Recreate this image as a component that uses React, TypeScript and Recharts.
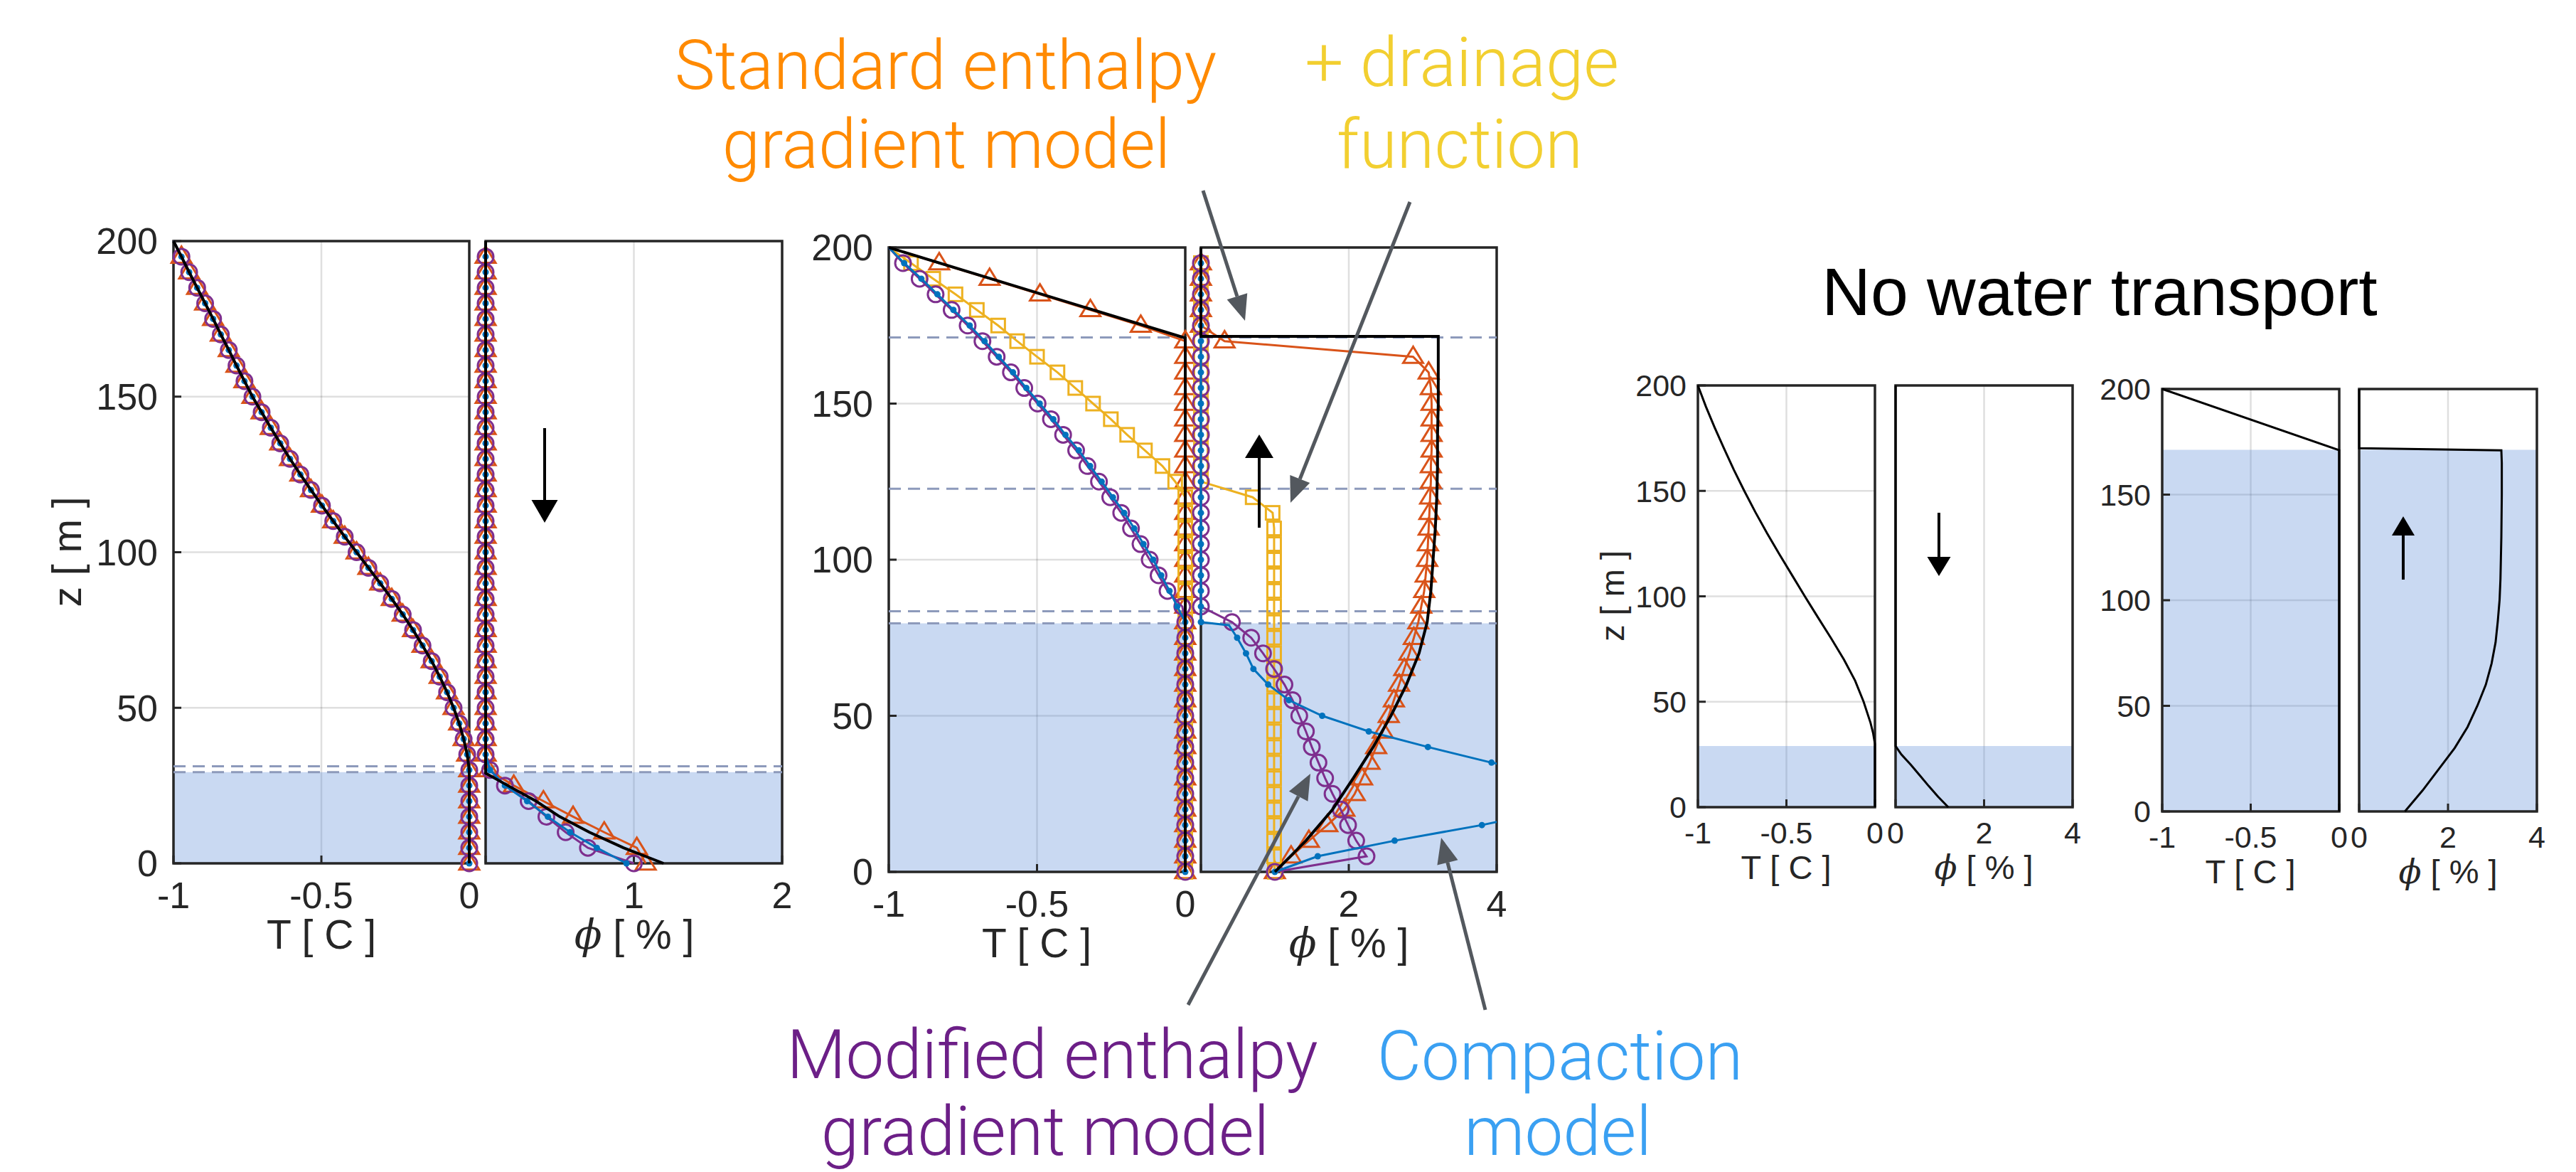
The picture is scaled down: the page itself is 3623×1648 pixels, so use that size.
import React from 'react';
import { ScatterChart, Scatter, XAxis, YAxis, CartesianGrid, ReferenceArea, ReferenceLine } from 'recharts';

// depth grid of the model runs, top to bottom (m)
const zModel = [
  200, 195, 190, 185, 180, 175, 170, 165, 160, 155,
  150, 145, 140, 135, 130, 125, 120, 115, 110, 105,
  100, 95, 90, 85, 80, 75, 70, 65, 60, 55,
  50, 45, 40, 35, 30, 25, 20, 15, 10, 5, 0,
];
const zTicks = [0, 50, 100, 150, 200];

// case 1: water percolates down (temperature, all models overlap)
const tA_models = [
  -1, -0.973, -0.947, -0.92, -0.893, -0.866, -0.84, -0.813, -0.787, -0.76,
  -0.733, -0.702, -0.671, -0.639, -0.606, -0.571, -0.535, -0.498, -0.46, -0.421,
  -0.381, -0.341, -0.301, -0.262, -0.225, -0.19, -0.158, -0.127, -0.1, -0.075,
  -0.053, -0.034, -0.019, -0.007, 0, 0, 0, 0, 0, 0, 0,
];
// case 1 porosity
const phiA_std = [
  0, 0, 0, 0, 0, 0, 0, 0, 0, 0,
  0, 0, 0, 0, 0, 0, 0, 0, 0, 0,
  0, 0, 0, 0, 0, 0, 0, 0, 0, 0,
  0, 0, 0, 0, 0.02, 0.19, 0.39, 0.59, 0.8, 1.02, 1.08,
];
const phiA_mod = [
  0, 0, 0, 0, 0, 0, 0, 0, 0, 0,
  0, 0, 0, 0, 0, 0, 0, 0, 0, 0,
  0, 0, 0, 0, 0, 0, 0, 0, 0, 0,
  0, 0, 0, 0, 0.03, 0.13, 0.29, 0.41, 0.54, 0.69, 1.0,
];
const phiA_cmp = [
  0, 0, 0, 0, 0, 0, 0, 0, 0, 0,
  0, 0, 0, 0, 0, 0, 0, 0, 0, 0,
  0, 0, 0, 0, 0, 0, 0, 0, 0, 0,
  0, 0, 0, 0, 0.03, 0.13, 0.28, 0.42, 0.57, 0.75, 0.95,
];
const zA_exact = [200, 29, 25, 20, 15, 10, 5, 0];
const phiA_exact = [0, 0, 0.15, 0.34, 0.5, 0.7, 0.93, 1.2];

// case 2: water moves up (temperature)
const tB_std = [
  -1, -0.83, -0.66, -0.49, -0.32, -0.15, 0, 0, 0, 0,
  0, 0, 0, 0, 0, 0, 0, 0, 0, 0,
  0, 0, 0, 0, 0, 0, 0, 0, 0, 0,
  0, 0, 0, 0, 0, 0, 0, 0, 0, 0, 0,
];
const tB_drn = [
  -1, -0.925, -0.85, -0.775, -0.703, -0.631, -0.567, -0.5, -0.431, -0.371,
  -0.311, -0.251, -0.196, -0.136, -0.077, -0.034, 0, 0, 0, 0,
  0, 0, 0, 0, 0, 0, 0, 0, 0, 0,
  0, 0, 0, 0, 0, 0, 0, 0, 0, 0, 0,
];
const tB_mod = [
  -1, -0.952, -0.896, -0.842, -0.788, -0.734, -0.684, -0.636, -0.588, -0.543,
  -0.498, -0.453, -0.412, -0.368, -0.33, -0.291, -0.253, -0.216, -0.183, -0.151,
  -0.12, -0.09, -0.06, -0.01, 0, 0, 0, 0, 0, 0,
  0, 0, 0, 0, 0, 0, 0, 0, 0, 0, 0,
];
const tB_cmp = [
  -1, -0.948, -0.89, -0.836, -0.782, -0.727, -0.677, -0.629, -0.581, -0.536,
  -0.491, -0.445, -0.404, -0.359, -0.321, -0.282, -0.244, -0.206, -0.172, -0.141,
  -0.108, -0.081, -0.053, -0.027, 0, 0, 0, 0, 0, 0,
  0, 0, 0, 0, 0, 0, 0, 0, 0, 0, 0,
];
const zB_exactT = [200, 171, 0];
const tB_exact = [-1, 0, 0];

// case 2 porosity
const phiB_std = [
  0, 0, 0, 0, 0, 0, 0.32, 2.87, 3.08, 3.11,
  3.12, 3.12, 3.12, 3.12, 3.11, 3.11, 3.1, 3.09, 3.08, 3.07,
  3.06, 3.04, 3.02, 2.98, 2.94, 2.88, 2.82, 2.75, 2.68, 2.61,
  2.54, 2.46, 2.37, 2.28, 2.18, 2.08, 1.94, 1.71, 1.46, 1.22, 1.0,
];
const phiB_drn = [
  0, 0, 0, 0, 0, 0, 0, 0, 0, 0,
  0, 0, 0, 0, 0, 0, 0.7, 0.97, 0.99, 0.99,
  0.99, 0.99, 0.99, 0.99, 0.99, 0.99, 0.99, 0.99, 0.99, 0.99,
  0.99, 0.99, 0.99, 0.99, 0.99, 0.99, 0.99, 0.99, 0.99, 0.99, 1.0,
];
const phiB_mod = [
  0, 0, 0, 0, 0, 0, 0, 0, 0, 0,
  0, 0, 0, 0, 0, 0, 0, 0, 0, 0,
  0, 0, 0, 0, 0.42, 0.68, 0.84, 0.99, 1.13, 1.24,
  1.33, 1.42, 1.5, 1.59, 1.68, 1.78, 1.89, 1.99, 2.1, 2.24, 1.0,
];
const zB_cmp = [
  200, 195, 190, 185, 180, 175, 170, 165, 160, 155,
  150, 145, 140, 135, 130, 125, 120, 115, 110, 105,
  100, 95, 90, 85, 80, 79, 75, 70, 65, 60, 55,
  50, 45, 40, 35, 30, 25, 20, 15, 10, 5, 0,
];
const phiB_cmp = [
  0, 0, 0, 0, 0, 0, 0, 0, 0, 0,
  0, 0, 0, 0, 0, 0, 0, 0, 0, 0,
  0, 0, 0, 0, 0, 0.38, 0.49, 0.61, 0.71, 0.91, 1.19,
  1.64, 2.27, 3.07, 3.93, 5.1, 5.6, 4.8, 3.8, 2.62, 1.58, 1.0,
];
const zB_exactPhi = [200, 171.5, 171.5, 170, 160, 150, 140, 130, 120, 110, 100, 90, 80, 70, 60, 50, 40, 30, 20, 10, 5, 0];
const phiB_exact = [0, 0, 3.21, 3.21, 3.21, 3.21, 3.2, 3.2, 3.19, 3.17, 3.14, 3.11, 3.06, 2.95, 2.78, 2.57, 2.33, 2.06, 1.78, 1.42, 1.21, 1.0];

// no water transport, case 1
const zC_T = [200, 190, 180, 170, 160, 150, 140, 130, 120, 110, 100, 90, 80, 70, 60, 50, 40, 35, 30, 0];
const tC = [-1, -0.955, -0.905, -0.852, -0.797, -0.738, -0.676, -0.61, -0.54, -0.468, -0.396, -0.322, -0.247, -0.175, -0.112, -0.064, -0.025, -0.01, 0, 0];
const zC_phi = [200, 29, 25, 20, 15, 10, 5, 0];
const phiC = [0, 0, 0.13, 0.35, 0.55, 0.75, 0.96, 1.19];

// no water transport, case 2
const zD_T = [200, 171, 0];
const tD = [-1, 0, 0];
const zD_phi = [200, 172, 171, 165, 150, 130, 120, 110, 100, 90, 80, 70, 60, 50, 40, 30, 20, 10, 0];
const phiD = [0, 0, 3.2, 3.21, 3.21, 3.2, 3.19, 3.18, 3.16, 3.12, 3.07, 2.98, 2.85, 2.66, 2.44, 2.15, 1.79, 1.43, 1.03];

const FONT = '"Liberation Sans", Arial, Helvetica, sans-serif';
const LIGHT = 'Roboto, "Liberation Sans", sans-serif';
const ORANGE = '#D95319';
const YELLOW = '#EDB120';
const PURPLE = '#7E2F8E';
const BLUE = '#0072BD';
const AXIS = '#262626';
const TICK_LEN = 11;

type Pt = { x: number; z: number };
type MarkerKind = 'none' | 'circle' | 'triangle' | 'square' | 'dot';
type Series = { id: string; pts: Pt[]; color: string; marker: MarkerKind; size?: number; lw: number; clip?: boolean };

const toPts = (zs: number[], xs: number[]): Pt[] => zs.map((z, i) => ({ z, x: xs[i] }));

const makeShape = (kind: MarkerKind, color: string, size: number) => (props: any) => {
  const { cx, cy, payload } = props;
  if (kind === 'none' || cx == null || cy == null) return <g />;
  if (!payload || payload.z >= 200 || payload.z % 5 !== 0) return <g />;
  const r = size / 2;
  if (kind === 'circle') return <circle cx={cx} cy={cy} r={r} fill="none" stroke={color} strokeWidth={3} />;
  if (kind === 'dot') return <circle cx={cx} cy={cy} r={r} fill={color} />;
  if (kind === 'square')
    return <rect x={cx - r} y={cy - r} width={size} height={size} fill="none" stroke={color} strokeWidth={3} />;
  const h = size * 0.82;
  return (
    <polygon
      points={`${cx},${cy - h * 0.62} ${cx - r},${cy + h * 0.38} ${cx + r},${cy + h * 0.38}`}
      fill="none"
      stroke={color}
      strokeWidth={3}
    />
  );
};

type PanelProps = {
  left: number; top: number; w: number; h: number;
  xDomain: [number, number]; xTicks: number[]; hideZero?: boolean;
  showY: boolean; fontSize: number; gapX: number; gapY: number;
  shadeTop: number; dashed: number[]; series: Series[];
};

function Panel(p: PanelProps) {
  const mL = 40, mR = 40, mT = 40, mB = 10;
  const yW = p.showY ? 170 : 0;
  const xH = 80;
  const W = mL + yW + p.w + mR;
  const H = mT + p.h + xH + mB;
  const tickStyle = { fontSize: p.fontSize, fill: AXIS, fontFamily: FONT };
  const tickLine = { stroke: AXIS, strokeWidth: 3 };
  return (
    <div style={{ position: 'absolute', left: p.left - mL - yW, top: p.top - mT, width: W, height: H }}>
      <ScatterChart width={W} height={H} margin={{ top: mT, right: mR, bottom: mB, left: mL }}>
        <CartesianGrid stroke={AXIS} strokeOpacity={0.15} strokeWidth={2.5} />
        <XAxis
          type="number" dataKey="x" domain={p.xDomain} ticks={p.xTicks} interval={0}
          height={xH} tickLine={tickLine} axisLine={false} tickSize={-TICK_LEN} tickMargin={p.gapX + TICK_LEN}
          tick={tickStyle}
          tickFormatter={(v: number) => (p.hideZero && v === 0 ? '' : String(v))}
        />
        <XAxis
          xAxisId="top" orientation="top" type="number" dataKey="x" domain={p.xDomain} ticks={p.xTicks}
          interval={0} height={0} tick={false} tickLine={tickLine} axisLine={false} tickSize={-TICK_LEN}
        />
        <XAxis xAxisId="clip" type="number" dataKey="x" domain={p.xDomain} allowDataOverflow hide />
        <YAxis
          type="number" dataKey="z" domain={[0, 200]} ticks={zTicks} interval={0}
          width={yW} tick={p.showY ? tickStyle : false} tickLine={tickLine} axisLine={false}
          tickSize={-TICK_LEN} tickMargin={p.gapY + TICK_LEN}
        />
        <YAxis
          yAxisId="right" orientation="right" type="number" dataKey="z" domain={[0, 200]} ticks={zTicks}
          interval={0} width={0} tick={false} tickLine={tickLine} axisLine={false} tickSize={-TICK_LEN}
        />
        <ReferenceArea y1={0} y2={p.shadeTop} fill="#5b8bd8" fillOpacity={0.33} stroke="none" />
        {p.dashed.map((d) => (
          <ReferenceLine key={d} y={d} stroke="#8d9abb" strokeWidth={3} strokeDasharray="17 10" />
        ))}
        <ReferenceArea x1={p.xDomain[0]} x2={p.xDomain[1]} y1={0} y2={200} fill="none" stroke={AXIS} strokeWidth={3.5} />
        {p.series.map((s) => (
          <Scatter
            key={s.id}
            data={s.pts}
            xAxisId={s.clip ? 'clip' : 0}
            fill={s.color}
            line={{ stroke: s.color, strokeWidth: s.lw }}
            lineType="joint"
            shape={makeShape(s.marker, s.color, s.size ?? 0)}
            isAnimationActive={false}
          />
        ))}
      </ScatterChart>
    </div>
  );
}

const big = { fontSize: 52, gapX: 26, gapY: 22 };
const small = { fontSize: 43, gapX: 20, gapY: 16 };

const seriesA_T: Series[] = [
  { id: 'std', pts: toPts(zModel, tA_models), color: ORANGE, marker: 'triangle', size: 28, lw: 3 },
  { id: 'mod', pts: toPts(zModel, tA_models), color: PURPLE, marker: 'circle', size: 22, lw: 3 },
  { id: 'cmp', pts: toPts(zModel, tA_models), color: BLUE, marker: 'dot', size: 9, lw: 3 },
  { id: 'exact', pts: toPts(zModel, tA_models), color: '#000', marker: 'none', lw: 4 },
];
const seriesA_P: Series[] = [
  { id: 'std', pts: toPts(zModel, phiA_std), color: ORANGE, marker: 'triangle', size: 28, lw: 3 },
  { id: 'mod', pts: toPts(zModel, phiA_mod), color: PURPLE, marker: 'circle', size: 22, lw: 3 },
  { id: 'cmp', pts: toPts(zModel, phiA_cmp), color: BLUE, marker: 'dot', size: 9, lw: 3 },
  { id: 'exact', pts: toPts(zA_exact, phiA_exact), color: '#000', marker: 'none', lw: 4 },
];
const seriesB_T: Series[] = [
  { id: 'std', pts: toPts(zModel, tB_std), color: ORANGE, marker: 'triangle', size: 28, lw: 3 },
  { id: 'drn', pts: toPts(zModel, tB_drn), color: YELLOW, marker: 'square', size: 19, lw: 3 },
  { id: 'mod', pts: toPts(zModel, tB_mod), color: PURPLE, marker: 'circle', size: 22, lw: 3 },
  { id: 'cmp', pts: toPts(zModel, tB_cmp), color: BLUE, marker: 'dot', size: 9, lw: 3 },
  { id: 'exact', pts: toPts(zB_exactT, tB_exact), color: '#000', marker: 'none', lw: 4 },
];
const cmpB = toPts(zB_cmp, phiB_cmp);
const seriesB_P: Series[] = [
  { id: 'std', pts: toPts(zModel, phiB_std), color: ORANGE, marker: 'triangle', size: 28, lw: 3 },
  { id: 'drn', pts: toPts(zModel, phiB_drn), color: YELLOW, marker: 'square', size: 19, lw: 3 },
  { id: 'mod', pts: toPts(zModel, phiB_mod), color: PURPLE, marker: 'circle', size: 22, lw: 3 },
  { id: 'cmpTop', pts: cmpB.filter((d) => d.z >= 80), color: BLUE, marker: 'dot', size: 9, lw: 3 },
  { id: 'cmpLow', pts: cmpB.filter((d) => d.z <= 80), color: BLUE, marker: 'dot', size: 9, lw: 3, clip: true },
  { id: 'exact', pts: toPts(zB_exactPhi, phiB_exact), color: '#000', marker: 'none', lw: 4 },
];

const annoLines = [
  { x1: 1692, y1: 268, x2: 1751, y2: 451 },
  { x1: 1983, y1: 284, x2: 1815, y2: 707 },
  { x1: 1671, y1: 1413, x2: 1843, y2: 1088 },
  { x1: 2089, y1: 1420, x2: 2027, y2: 1178 },
];
const flowArrows = [
  { x: 766, tail: 602, base: 703, tip: 735, half: 18.5 },
  { x: 1771, tail: 742, base: 644, tip: 611, half: 20 },
  { x: 2727, tail: 721, base: 783, tip: 810, half: 16.5 },
  { x: 3380, tail: 815, base: 753, tip: 726, half: 16 },
];

function Overlay() {
  const grey = '#53585e';
  const phiLabel = (cx: number, y: number, fs: number) => (
    <text x={cx} y={y} textAnchor="middle" fontFamily={FONT} fontSize={fs} fill={AXIS}>
      <tspan fontFamily='"DejaVu Serif", serif' fontStyle="italic">ϕ</tspan> [ % ]
    </text>
  );
  const tLabel = (cx: number, y: number, fs: number) => (
    <text x={cx} y={y} textAnchor="middle" fontFamily={FONT} fontSize={fs} fill={AXIS}>T [ C ]</text>
  );
  return (
    <svg width={3623} height={1648} style={{ position: 'absolute', left: 0, top: 0, pointerEvents: 'none' }}>
      {annoLines.map((l, i) => {
        const dx = l.x2 - l.x1, dy = l.y2 - l.y1;
        const len = Math.hypot(dx, dy);
        const ux = dx / len, uy = dy / len;
        const bx = l.x2 - ux * 36, by = l.y2 - uy * 36;
        return (
          <g key={i}>
            <line x1={l.x1} y1={l.y1} x2={bx} y2={by} stroke={grey} strokeWidth={5} />
            <polygon
              points={`${l.x2},${l.y2} ${bx - uy * 15},${by + ux * 15} ${bx + uy * 15},${by - ux * 15}`}
              fill={grey}
            />
          </g>
        );
      })}
      {flowArrows.map((a, i) => (
        <g key={i}>
          <line x1={a.x} y1={a.tail} x2={a.x} y2={a.base} stroke="#000" strokeWidth={4} />
          <polygon points={`${a.x},${a.tip} ${a.x - a.half},${a.base} ${a.x + a.half},${a.base}`} fill="#000" />
        </g>
      ))}

      {tLabel(452, 1334, 57)}
      {phiLabel(892, 1334, 57)}
      {tLabel(1458, 1346, 57)}
      {phiLabel(1897, 1346, 57)}
      {tLabel(2512, 1236, 47)}
      {phiLabel(2790, 1236, 47)}
      {tLabel(3165, 1242, 47)}
      {phiLabel(3443, 1242, 47)}
      <text x={114} y={776} transform="rotate(-90 114 776)" textAnchor="middle" fontFamily={FONT} fontSize={57} fill={AXIS}>z [ m ]</text>
      <text x={2284} y={838} transform="rotate(-90 2284 838)" textAnchor="middle" fontFamily={FONT} fontSize={47} fill={AXIS}>z [ m ]</text>

      <text x={2953} y={443} textAnchor="middle" fontFamily={FONT} fontSize={95} fill="#000">No water transport</text>

      <g fontFamily={LIGHT} fontWeight={300} fontSize={96} textAnchor="middle">
        <text x={1330} y={125} fill="#FF8A00">Standard enthalpy</text>
        <text x={1331} y={236} fill="#FF8A00">gradient model</text>
        <text x={2056} y={121} fill="#F2CF30">+ drainage</text>
        <text x={2053} y={236} fill="#F2CF30">function</text>
        <text x={1480} y={1516} fill="#6C1F87">Modified enthalpy</text>
        <text x={1470} y={1624} fill="#6C1F87">gradient model</text>
        <text x={2194} y={1518} fill="#3AA0F2">Compaction</text>
        <text x={2191} y={1624} fill="#3AA0F2">model</text>
      </g>
    </svg>
  );
}

export default function App() {
  return (
    <div style={{ position: 'relative', width: 3623, height: 1648, background: '#fff', overflow: 'hidden' }}>
      <style>{'body{margin:0}'}</style>
      <Panel left={244} top={339} w={416} h={875} xDomain={[-1, 0]} xTicks={[-1, -0.5, 0]} showY {...big}
        shadeTop={29.3} dashed={[31.2, 29.3]} series={seriesA_T} />
      <Panel left={683} top={339} w={417} h={875} xDomain={[0, 2]} xTicks={[0, 1, 2]} hideZero showY={false} {...big}
        shadeTop={29.3} dashed={[31.2, 29.3]} series={seriesA_P} />
      <Panel left={1250} top={348} w={417} h={878} xDomain={[-1, 0]} xTicks={[-1, -0.5, 0]} showY {...big}
        shadeTop={79.6} dashed={[171.2, 122.7, 83.5, 79.6]} series={seriesB_T} />
      <Panel left={1689} top={348} w={416} h={878} xDomain={[0, 4]} xTicks={[0, 2, 4]} hideZero showY={false} {...big}
        shadeTop={79.6} dashed={[171.2, 122.7, 83.5, 79.6]} series={seriesB_P} />
      <Panel left={2388} top={542} w={249} h={593} xDomain={[-1, 0]} xTicks={[-1, -0.5, 0]} showY {...small}
        shadeTop={29} dashed={[]} series={[{ id: 'exact', pts: toPts(zC_T, tC), color: '#000', marker: 'none', lw: 3 }]} />
      <Panel left={2666} top={542} w={249} h={593} xDomain={[0, 4]} xTicks={[0, 2, 4]} showY={false} {...small}
        shadeTop={29} dashed={[]} series={[{ id: 'exact', pts: toPts(zC_phi, phiC), color: '#000', marker: 'none', lw: 3 }]} />
      <Panel left={3041} top={547} w={249} h={594} xDomain={[-1, 0]} xTicks={[-1, -0.5, 0]} showY {...small}
        shadeTop={171.2} dashed={[]} series={[{ id: 'exact', pts: toPts(zD_T, tD), color: '#000', marker: 'none', lw: 3 }]} />
      <Panel left={3318} top={547} w={250} h={594} xDomain={[0, 4]} xTicks={[0, 2, 4]} showY={false} {...small}
        shadeTop={171.2} dashed={[]} series={[{ id: 'exact', pts: toPts(zD_phi, phiD), color: '#000', marker: 'none', lw: 3 }]} />
      <Overlay />
    </div>
  );
}
